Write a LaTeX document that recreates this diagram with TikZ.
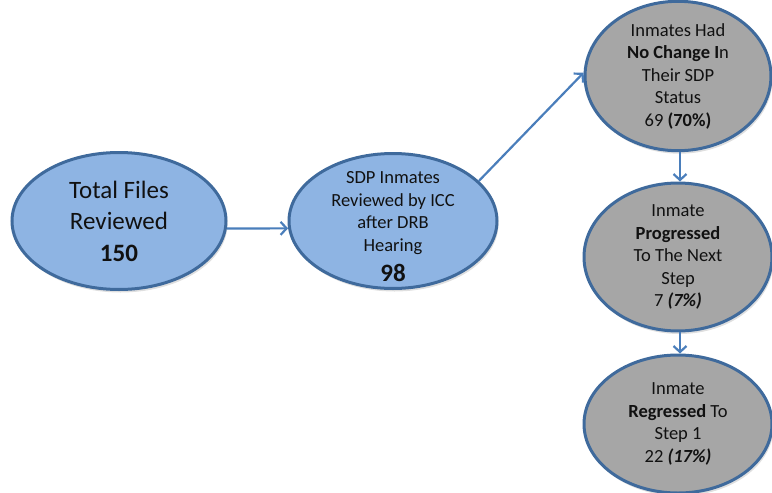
\documentclass[tikz,border=0pt]{standalone}
\usepackage{fontspec}
\setmainfont{Carlito}
\usetikzlibrary{shapes.geometric,arrows.meta,shadows}
\definecolor{bluefill}{HTML}{8EB4E3}
\definecolor{edgeblue}{HTML}{3F6A9C}
\definecolor{grayfill}{HTML}{A6A6A6}
\definecolor{arrowblue}{HTML}{4A7EBB}
\definecolor{txt}{HTML}{111111}
\tikzset{
  oval/.style={ellipse, draw=edgeblue, line width=3pt, inner sep=0pt, align=center, text=txt,
    drop shadow={shadow xshift=1.5pt, shadow yshift=-3pt, opacity=0.25}},
  blueoval/.style={oval, fill=bluefill},
  grayoval/.style={oval, fill=grayfill},
  conn/.style={draw=arrowblue, line width=2.2pt, -{Straight Barb[length=6pt,width=13pt,line width=2.2pt]}},
  bigtext/.style={font=\fontsize{25}{31.5}\selectfont},
  midtext/.style={font=\fontsize{18.5}{22.5}\selectfont},
  label text/.style={inner sep=0pt, align=center, text=txt},
}
\begin{document}
\begin{tikzpicture}[x=1pt,y=-1pt]
\useasboundingbox (0,0) rectangle (772,493);
\node[blueoval, bigtext, minimum width=214pt, minimum height=137pt] (e1) at (119,221)
  {Total Files\\Reviewed\\\textbf{150}};
\node[blueoval, minimum width=208pt, minimum height=135pt] (e2) at (393,221) {};
\node[label text, midtext] (t2) at (393,227)
  {SDP Inmates\\Reviewed by ICC\\after DRB\\Hearing\\[8pt]{\fontsize{25}{26}\selectfont\textbf{98}}};
\node[grayoval, midtext, minimum width=186pt, minimum height=142pt] (e3) at (678,76)
  {Inmates Had\\\textbf{No Change I}n\\Their SDP\\Status\\69 \textbf{(70\%)}};
\node[grayoval, midtext, minimum width=188pt, minimum height=138pt] (e4) at (678,257)
  {Inmate\\\textbf{Progressed}\\To The Next\\Step\\7 \textbf{\textit{(7\%)}}};
\node[grayoval, midtext, minimum width=188pt, minimum height=138pt] (e5) at (678,424)
  {Inmate\\\textbf{Regressed} To\\Step 1\\22 \textbf{\textit{(17\%)}}};
\draw[conn] (e1.-4) -- (e2.184);
\draw[conn] (e2.25) -- (e3.178);
\draw[conn] ([xshift=2pt]e3.south) -- ([xshift=2pt]e4.north);
\draw[conn] ([xshift=2pt]e4.south) -- ([xshift=2pt]e5.north);
\end{tikzpicture}
\end{document}
